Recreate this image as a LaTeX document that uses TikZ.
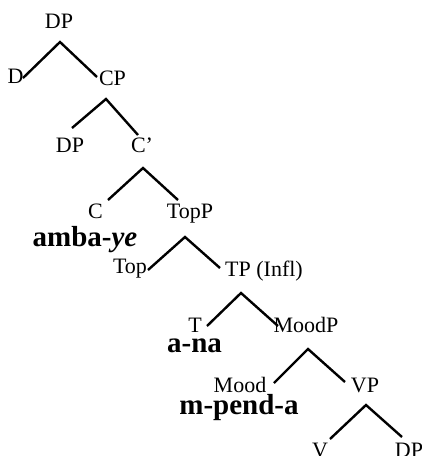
\documentclass[tikz,border=0pt]{standalone}
\usepackage{fontspec}
\setmainfont{Liberation Serif}
\begin{document}
\begin{tikzpicture}[x=1pt,y=-1pt,
  lbl/.style={inner sep=0pt,anchor=base,font=\fontsize{22}{22}\selectfont},
  big/.style={inner sep=0pt,anchor=base,font=\fontsize{29}{29}\selectfont\bfseries},
  branch/.style={line width=2.4pt,line cap=butt,line join=miter}]
\useasboundingbox (0,0) rectangle (422,456);
% labels
\node[lbl] (dp0) at (59,28) {DP};
\node[lbl] (d) at (15.5,83) {D};
\node[lbl] (cp) at (112.5,85) {CP};
\node[lbl] (dp1) at (70,152) {DP};
\node[lbl] (cbar) at (142,152) {C’};
\node[lbl] (c) at (95.5,218) {C};
\node[lbl] (topp) at (190,218) {TopP};
\node[big] (amba) at (85,246) {amba-\textit{ye}};
\node[lbl] (top) at (130,273) {Top};
\node[lbl] (tp) at (264,276) {TP (Infl)};
\node[lbl] (t) at (195,332) {T};
\node[lbl] (moodp) at (306,332) {MoodP};
\node[big] (ana) at (194.5,352) {a-na};
\node[lbl] (mood) at (240,392) {Mood};
\node[lbl] (vp) at (365,392) {VP};
\node[big] (mpenda) at (239,414) {m-pend-a};
\node[lbl] (v) at (320,457) {V};
\node[lbl] (dp2) at (409,457) {DP};
% branch points
\coordinate (a1) at (60,42);  \coordinate (l1) at (23,78);  \coordinate (r1) at (97,77);
\coordinate (a2) at (106,99); \coordinate (l2) at (72,128); \coordinate (r2) at (138,135);
\coordinate (a3) at (143,168);\coordinate (l3) at (108,200);\coordinate (r3) at (178,200);
\coordinate (a4) at (185,237);\coordinate (l4) at (148,270);\coordinate (r4) at (220,268);
\coordinate (a5) at (241,293);\coordinate (l5) at (207,326);\coordinate (r5) at (278,326);
\coordinate (a6) at (308,349);\coordinate (l6) at (274,383);\coordinate (r6) at (345,382);
\coordinate (a7) at (366,405);\coordinate (l7) at (330,439);\coordinate (r7) at (402,437);
\foreach \i in {1,...,7}{\draw[branch] (l\i) -- (a\i) -- (r\i);}
\end{tikzpicture}
\end{document}
